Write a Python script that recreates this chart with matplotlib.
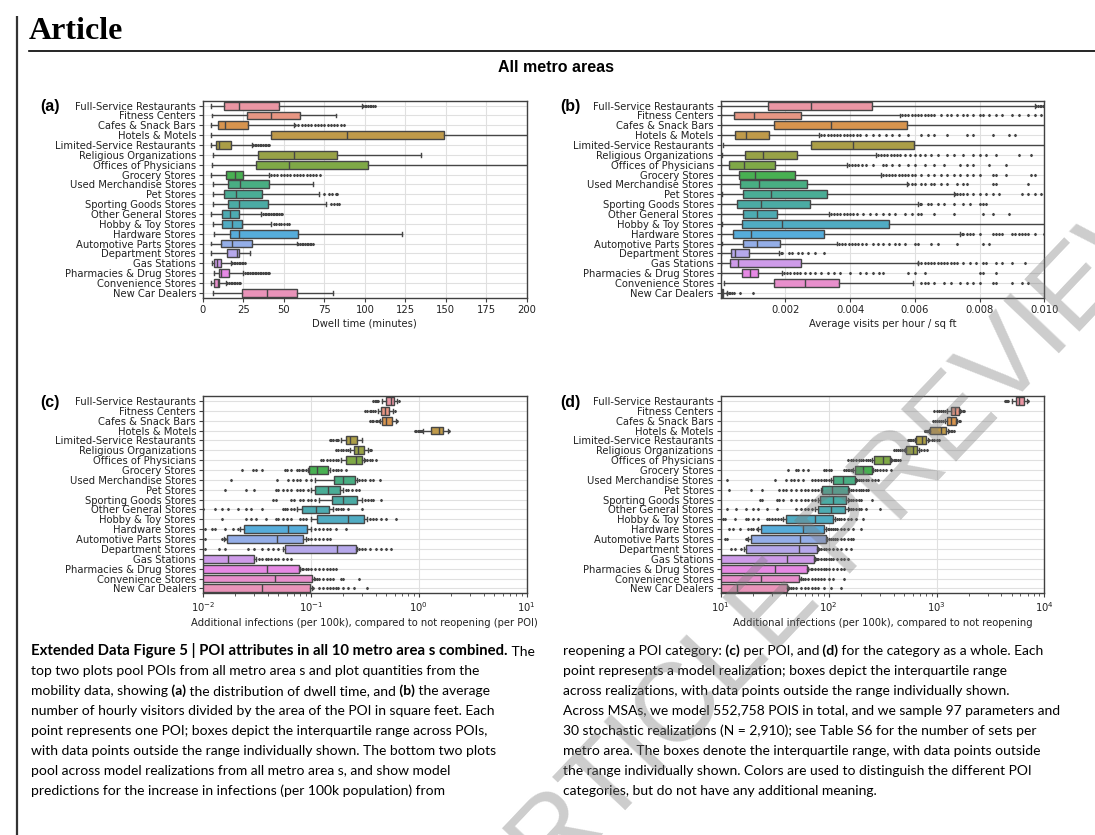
import numpy as np
import matplotlib.pyplot as plt
import seaborn as sns
import colorsys

categories = ["Full-Service Restaurants", "Fitness Centers", "Cafes & Snack Bars",
              "Hotels & Motels", "Limited-Service Restaurants", "Religious Organizations",
              "Offices of Physicians", "Grocery Stores", "Used Merchandise Stores",
              "Pet Stores", "Sporting Goods Stores", "Other General Stores",
              "Hobby & Toy Stores", "Hardware Stores", "Automotive Parts Stores",
              "Department Stores", "Gas Stations", "Pharmacies & Drug Stores",
              "Convenience Stores", "New Car Dealers"]

# (a) dwell time in minutes
dwell_lo = [5, 5.5, 5, 5, 5, 6, 5.5, 5, 6, 6, 6, 5, 6, 6.5, 5, 5, 5.5, 7, 5, 6]
dwell_q1 = [13, 27.4, 9, 42, 8, 34, 33, 14, 15.5, 13, 15.5, 12, 12, 16.5, 11, 15, 7, 10, 7, 24]
dwell_med = [22, 42, 13.5, 89, 10, 56, 53, 20, 23, 20.5, 22.5, 16.5, 18, 22.5, 18, 21, 8.5, 11, 9, 39.5]
dwell_q3 = [47, 60, 28, 149, 17, 83, 102, 25, 41, 36.5, 40, 22, 24, 59, 30, 22, 11, 16, 10, 58]
dwell_hi = [98, 82, 56, 230, 30, 135, 230, 41, 68, 71.5, 76, 36, 42, 123, 58, 29, 17, 25, 14, 80.5]
dwell_fliers = [
    [99, 100, 101, 102, 103, 104, 105, 106],
    [],
    [57, 59, 61, 63, 65, 67, 69, 71, 73, 75, 77, 79, 81, 83, 85, 87],
    [],
    [31, 32, 33, 34, 35, 36, 37, 38, 39, 40, 41],
    [],
    [],
    [42, 44, 46, 48, 50, 52, 54, 56, 58, 60, 62, 64, 66, 68, 70, 72],
    [],
    [75, 78, 80, 82, 83],
    [79, 81, 83, 84],
    [37, 38, 39, 40, 41, 42, 43, 44, 45, 46, 47, 48, 49],
    [44, 45, 47, 48, 50, 52, 53],
    [],
    [59, 60, 61, 62, 63, 64, 65, 66, 67, 68],
    [],
    [18, 19, 20, 21, 22, 23, 24, 25, 26],
    [26, 27, 28, 29, 30, 31, 32, 33, 34, 35, 36, 37, 38, 39, 40, 41],
    [15, 16, 17, 18, 19, 20, 21, 22, 23],
    [],
]

# (b) average visits per hour / sq ft, in units of 1e-3
visits_lo = [0, 0, 0, 0, 0.08, 0.03, 0, 0, 0, 0.03, 0, 0, 0.03, 0, 0.04, 0, 0, 0, 0.11, 0]
visits_q1 = [1.47, 0.41, 1.64, 0.44, 2.78, 0.76, 0.25, 0.55, 0.6, 0.69, 0.51, 0.68, 0.67, 0.37, 0.7, 0.31, 0.28, 0.67, 1.65, 0.01]
visits_med = [2.78, 1.03, 3.42, 0.78, 4.09, 1.32, 0.73, 1.07, 1.18, 1.54, 1.26, 1.13, 1.88, 0.94, 1.11, 0.43, 0.54, 0.92, 2.6, 0.04]
visits_q3 = [4.67, 2.47, 5.76, 1.5, 5.96, 2.36, 1.68, 2.28, 2.67, 3.27, 2.75, 1.74, 5.19, 3.2, 1.83, 0.87, 2.49, 1.15, 3.67, 0.08]
visits_hi = [9.7, 5.55, 12, 3.05, 12, 4.8, 3.9, 4.95, 5.75, 7.2, 6.1, 3.35, 12, 7.4, 3.6, 1.8, 6.1, 1.9, 5.95, 0.18]
visits_fliers = [
    [9.75, 9.8, 9.85, 9.9, 9.95, 10.0],
    [5.6, 5.7, 5.8, 5.9, 6.0, 6.1, 6.2, 6.3, 6.4, 6.5, 6.6, 6.8, 7.0, 7.1, 7.3, 7.5, 7.6, 7.8,
     8.0, 8.1, 8.3, 8.5, 8.7, 9.0, 9.2, 9.5, 9.7, 9.9],
    [],
    [3.1, 3.2, 3.3, 3.4, 3.5, 3.6, 3.7, 3.8, 3.9, 4.0, 4.1, 4.2, 4.3, 4.5, 4.7, 4.9, 5.1, 5.3,
     5.5, 5.8, 6.2, 6.4, 6.6, 7.0, 7.6, 7.8, 8.4, 8.9, 9.1],
    [],
    [4.85, 4.95, 5.05, 5.15, 5.25, 5.35, 5.45, 5.55, 5.7, 5.85, 6.0, 6.15, 6.3, 6.5, 6.7, 7.0,
     7.2, 7.5, 7.8, 8.0, 8.2, 8.5, 9.2, 9.6],
    [3.95, 4.05, 4.15, 4.25, 4.35, 4.5, 4.7, 5.0, 5.1, 5.3, 5.5, 5.8, 6.0, 6.3, 6.6, 6.9, 7.4,
     7.6, 7.8, 8.3, 8.8],
    [5.0, 5.1, 5.2, 5.3, 5.4, 5.5, 5.6, 5.7, 5.8, 5.9, 6.0, 6.2, 6.4, 6.6, 6.8, 7.0, 7.2, 7.4,
     7.6, 7.8, 8.0, 8.4, 8.5, 8.8, 9.6, 9.7],
    [5.8, 5.9, 6.0, 6.2, 6.3, 6.5, 6.6, 6.8, 7.0, 7.3, 7.5, 7.6, 8.4, 8.5, 9.5],
    [7.25, 7.3, 7.4, 7.5, 7.6, 7.8, 8.0, 8.2, 8.4, 8.6, 9.3, 9.5, 9.7, 9.9],
    [6.15, 6.2, 6.4, 6.5, 6.7, 6.9, 7.2, 7.5, 7.7, 8.0, 8.1, 8.2],
    [3.4, 3.5, 3.6, 3.7, 3.8, 3.9, 4.0, 4.1, 4.2, 4.4, 4.6, 4.8, 5.0, 5.2, 5.4, 5.7, 5.9, 6.1,
     6.2, 6.6, 7.2, 8.1, 8.4, 8.9],
    [],
    [7.45, 7.5, 7.6, 7.7, 7.8, 8.0, 8.4, 8.5, 8.6, 8.7, 9.0, 9.1, 9.2, 9.3, 9.4, 9.5, 9.7, 10.0],
    [3.65, 3.75, 3.85, 3.95, 4.05, 4.15, 4.25, 4.35, 4.5, 4.7, 4.85, 5.0, 5.2, 5.4, 5.5, 5.7,
     6.0, 6.1, 6.5, 6.7, 7.3, 8.1, 8.3],
    [1.85, 1.9, 2.1, 2.2, 2.4, 2.5, 2.7, 2.9, 3.2],
    [6.1, 6.2, 6.3, 6.4, 6.5, 6.6, 6.7, 6.8, 6.9, 7.0, 7.1, 7.2, 7.3, 7.5, 7.7, 7.9, 8.1, 8.2,
     8.5, 8.7, 9.0, 9.4],
    [1.95, 2.05, 2.15, 2.25, 2.35, 2.45, 2.6, 2.75, 2.9, 3.1, 3.3, 3.5, 3.7, 4.0, 4.3, 4.5, 4.7,
     4.9, 5.0, 5.8, 6.0, 6.3, 8.0, 8.1, 8.5],
    [6.2, 6.3, 6.4, 6.6, 6.9, 7.1, 7.4, 7.6, 7.8, 8.0, 8.4, 8.5, 9.0, 9.3, 9.5],
    [0.2, 0.25, 0.3, 0.35, 0.4, 0.6, 1.0],
]

# (c) additional infections per 100k, per POI
poi_lo = [0.46, 0.42, 0.44, 1.1, 0.19, 0.23, 0.19, 0.095, 0.11, 0.10, 0.12, 0.075, 0.10,
          0.022, 0.0155, 0.055, 0.001, 0.001, 0.001, 0.001]
poi_q1 = [0.50, 0.45, 0.46, 1.30, 0.21, 0.25, 0.21, 0.097, 0.162, 0.11, 0.156, 0.083, 0.115,
          0.024, 0.0167, 0.058, 0.005, 0.006, 0.006, 0.006]
poi_med = [0.55, 0.49, 0.50, 1.55, 0.23, 0.275, 0.26, 0.115, 0.20, 0.145, 0.20, 0.112, 0.22,
           0.061, 0.048, 0.175, 0.017, 0.039, 0.046, 0.035]
poi_q3 = [0.59, 0.53, 0.56, 1.69, 0.265, 0.31, 0.30, 0.143, 0.258, 0.185, 0.267, 0.148, 0.312,
          0.093, 0.084, 0.263, 0.030, 0.077, 0.103, 0.099]
poi_hi = [0.63, 0.58, 0.61, 1.85, 0.30, 0.34, 0.31, 0.15, 0.27, 0.20, 0.30, 0.16, 0.33,
          0.10, 0.09, 0.27, 0.031, 0.08, 0.106, 0.102]
poi_fliers = [
    [0.38, 0.39, 0.40, 0.41, 0.42, 0.65],
    [0.32, 0.33, 0.35, 0.36, 0.38, 0.39, 0.60],
    [0.35, 0.37, 0.38, 0.40, 0.41, 0.43, 0.63],
    [0.92, 0.95, 0.98, 1.0, 1.02, 1.05, 1.08, 1.9],
    [0.15, 0.155, 0.16, 0.17, 0.175, 0.18],
    [0.17, 0.18, 0.19, 0.20, 0.21, 0.22, 0.35, 0.36],
    [0.125, 0.13, 0.14, 0.15, 0.16, 0.17, 0.18, 0.32, 0.33, 0.35, 0.37, 0.40],
    [0.023, 0.029, 0.031, 0.035, 0.057, 0.06, 0.065, 0.075, 0.078, 0.082, 0.085, 0.09,
     0.16, 0.17, 0.18, 0.19, 0.21],
    [0.018, 0.048, 0.062, 0.068, 0.075, 0.08, 0.09, 0.1, 0.28, 0.3, 0.32, 0.35, 0.38, 0.44],
    [0.016, 0.025, 0.03, 0.047, 0.05, 0.055, 0.06, 0.065, 0.075, 0.08, 0.085, 0.095,
     0.21, 0.22, 0.24, 0.26, 0.28],
    [0.045, 0.047, 0.065, 0.07, 0.08, 0.085, 0.095, 0.1, 0.11, 0.32, 0.34, 0.36, 0.38, 0.45],
    [0.01, 0.013, 0.015, 0.017, 0.021, 0.025, 0.028, 0.035, 0.055, 0.058, 0.06, 0.065, 0.07,
     0.17, 0.18, 0.19, 0.2, 0.22, 0.3],
    [0.015, 0.025, 0.028, 0.031, 0.038, 0.047, 0.05, 0.055, 0.06, 0.065, 0.08, 0.085, 0.09,
     0.35, 0.38, 0.4, 0.45, 0.5, 0.62],
    [0.0105, 0.012, 0.013, 0.016, 0.019, 0.021, 0.11, 0.12, 0.13, 0.14, 0.15, 0.17, 0.21],
    [0.0105, 0.015, 0.016, 0.095, 0.1, 0.11, 0.12, 0.13, 0.14, 0.15],
    [0.0105, 0.014, 0.016, 0.026, 0.03, 0.035, 0.04, 0.045, 0.05, 0.28, 0.3, 0.32, 0.35,
     0.4, 0.45, 0.5, 0.55],
    [0.033, 0.035, 0.038, 0.04, 0.043, 0.046, 0.05, 0.055, 0.06, 0.065],
    [0.082, 0.085, 0.09, 0.095, 0.1, 0.11, 0.12, 0.13, 0.14, 0.15, 0.16, 0.17],
    [0.11, 0.115, 0.12, 0.13, 0.14, 0.15, 0.16, 0.19, 0.2, 0.28],
    [0.105, 0.12, 0.13, 0.14, 0.15, 0.16, 0.17, 0.18, 0.2, 0.22, 0.25, 0.33],
]

# (d) additional infections per 100k, whole category
cat_lo = [5000, 1250, 1200, 850, 630, 510, 250, 170, 105, 85, 80, 75, 38, 22, 18, 16.5, 5, 5, 5, 5]
cat_q1 = [5470, 1371, 1250, 863, 641, 526, 262, 176, 108.7, 87, 84, 79, 39.9, 23.4, 18.95,
          17.1, 8, 8, 8, 8]
cat_med = [5850, 1470, 1370, 1090, 740, 610, 320, 210, 136, 108, 110, 106, 74.5, 58, 54, 53,
           41.4, 31.8, 23.6, 14.05]
cat_q3 = [6530, 1614, 1503, 1233, 805, 664, 368, 251, 175, 150, 146, 143, 110, 90, 95.6, 78.9,
          73, 62.5, 53.3, 40.8]
cat_hi = [6900, 1650, 1550, 1280, 830, 690, 380, 260, 180, 155, 150, 150, 115, 95, 97, 80,
          75, 64, 55, 42]
cat_fliers = [
    [4300, 4400, 4500, 4600, 7100],
    [950, 1000, 1050, 1100, 1150, 1200, 1700, 1750, 1800],
    [920, 960, 1000, 1050, 1100, 1150, 1600, 1650],
    [780, 790, 800, 810, 820, 830, 1300, 1350, 1400, 1450],
    [550, 560, 570, 580, 600, 610, 850, 900, 950, 1000, 1050],
    [400, 420, 440, 460, 480, 500, 720, 760, 820],
    [150, 160, 170, 180, 190, 200, 210, 220, 230, 240, 390, 400, 410, 420, 440, 460],
    [42, 50, 52, 58, 65, 90, 95, 100, 105, 140, 145, 150, 155, 160, 165,
     270, 280, 300, 320, 340, 380],
    [11.5, 32, 40, 45, 48, 52, 58, 70, 75, 80, 85, 90, 95, 100,
     185, 190, 200, 210, 220, 230, 250, 270, 290],
    [12, 19, 24, 35, 38, 40, 45, 50, 55, 60, 65, 70, 75, 80,
     160, 170, 180, 190, 200, 210, 220, 230],
    [23, 24, 33, 35, 38, 45, 50, 55, 60, 65, 70, 75, 155, 160, 170, 180, 190, 200, 250],
    [11.5, 14, 17, 20, 22, 27, 33, 50, 55, 60, 65, 70, 155, 160, 170, 180, 190, 200, 220, 300],
    [10.5, 11, 13.5, 17, 18, 20, 22, 27, 28, 30, 32, 34, 36,
     120, 125, 130, 140, 150, 160, 180, 210],
    [12, 13, 15, 18, 19, 20, 21.5, 98, 100, 105, 110, 115, 120, 130, 140, 150, 170, 200],
    [11, 11.5, 17, 17.5, 100, 105, 110, 115, 120, 130, 140, 150, 160, 170],
    [12.5, 13.5, 15.5, 82, 85, 90, 95, 100, 110, 120, 130, 145, 160],
    [76, 78, 80, 85, 90, 95, 100, 105, 110, 120, 130, 140, 150],
    [65, 68, 70, 75, 80, 85, 90, 95, 100, 110, 120, 130, 140],
    [56, 58, 60, 65, 70, 75, 80, 85, 90, 100, 110, 140],
    [43, 45, 47, 50, 55, 60, 65, 70, 75, 80, 90, 105, 130],
]

caption_left = [
    [("Extended Data Figure 5 | POI attributes in all 10 metro area s combined.", True), (" The", False)],
    [("top two plots pool POIs from all metro area s and plot quantities from the", False)],
    [("mobility data, showing", False), (" (a)", True), (" the distribution of dwell time, and", False),
     (" (b)", True), (" the average", False)],
    [("number of hourly visitors divided by the area of the POI in square feet. Each", False)],
    [("point represents one POI; boxes depict the interquartile range across POIs,", False)],
    [("with data points outside the range individually shown. The bottom two plots", False)],
    [("pool across model realizations from all metro area s, and show model", False)],
    [("predictions for the increase in infections (per 100k population) from", False)],
]
caption_right = [
    [("reopening a POI category:", False), (" (c)", True), (" per POI, and", False), (" (d)", True),
     (" for the category as a whole. Each", False)],
    [("point represents a model realization; boxes depict the interquartile range", False)],
    [("across realizations, with data points outside the range individually shown.", False)],
    [("Across MSAs, we model 552,758 POIS in total, and we sample 97 parameters and", False)],
    [("30 stochastic realizations (N = 2,910); see Table S6 for the number of sets per", False)],
    [("metro area. The boxes denote the interquartile range, with data points outside", False)],
    [("the range individually shown. Colors are used to distinguish the different POI", False)],
    [("categories, but do not have any additional meaning.", False)],
]

W, H = 1095, 835
pal = sns.color_palette(sns.husl_palette(len(categories), l=.7), desat=.75)
lum = min(colorsys.rgb_to_hls(*c)[1] for c in pal) * .6
gray = (lum, lum, lum)


def make_stats(lo, q1, med, q3, hi, fliers, scale=1.0):
    out = []
    for i in range(len(lo)):
        out.append(dict(whislo=lo[i] * scale, q1=q1[i] * scale, med=med[i] * scale,
                        q3=q3[i] * scale, whishi=hi[i] * scale,
                        fliers=np.array(fliers[i], dtype=float) * scale))
    return out


def draw_panel(rect, stats, xlabel):
    ax = fig.add_axes(rect)
    bp = ax.bxp(stats, positions=np.arange(len(categories)), widths=0.8,
                orientation='horizontal', patch_artist=True, manage_ticks=False,
                boxprops=dict(edgecolor=gray, linewidth=1.0),
                whiskerprops=dict(color=gray, linewidth=1.0),
                capprops=dict(color=gray, linewidth=1.0),
                medianprops=dict(color=gray, linewidth=1.0),
                flierprops=dict(marker='d', markersize=1.2, markerfacecolor=gray,
                                markeredgecolor=gray, linestyle='none'))
    for patch, c in zip(bp['boxes'], pal):
        patch.set_facecolor(c)
    ax.set_yticks(np.arange(len(categories)))
    ax.set_yticklabels(categories)
    ax.set_ylim(len(categories) - 0.5, -0.5)
    ax.grid(True, color='#e0e0e0', linewidth=0.8)
    ax.set_axisbelow(True)
    ax.tick_params(labelsize=7.2, length=3, pad=2, color='#404040', labelcolor='#222222')
    ax.tick_params(which='minor', length=1.8, color='#404040')
    for s in ax.spines.values():
        s.set_color('#404040')
        s.set_linewidth(1.0)
    ax.set_xlabel(xlabel, fontsize=7.2, labelpad=3, color='#222222')
    return ax


fig = plt.figure(figsize=(W / 100, H / 100), dpi=100)

ax_w = 323.7 / W
top_b, top_h = 1 - 297.7 / H, 197 / H
bot_b, bot_h = 1 - 593.3 / H, 197.3 / H

ax_a = draw_panel([203 / W, top_b, ax_w, top_h],
                  make_stats(dwell_lo, dwell_q1, dwell_med, dwell_q3, dwell_hi, dwell_fliers),
                  'Dwell time (minutes)')
ax_a.set_xlim(0, 200)
ax_a.set_xticks(np.arange(0, 201, 25))

ax_b = draw_panel([720.7 / W, top_b, ax_w, top_h],
                  make_stats(visits_lo, visits_q1, visits_med, visits_q3, visits_hi, visits_fliers, 1e-3),
                  'Average visits per hour / sq ft')
ax_b.set_xlim(0, 0.01)
ax_b.set_xticks([0.002, 0.004, 0.006, 0.008, 0.010])
ax_b.set_xticklabels(['0.002', '0.004', '0.006', '0.008', '0.010'])

ax_c = draw_panel([203 / W, bot_b, ax_w, bot_h],
                  make_stats(poi_lo, poi_q1, poi_med, poi_q3, poi_hi, poi_fliers),
                  'Additional infections (per 100k), compared to not reopening (per POI)')
ax_c.set_xscale('log')
ax_c.set_xlim(1e-2, 1e1)

ax_d = draw_panel([720.7 / W, bot_b, ax_w, bot_h],
                  make_stats(cat_lo, cat_q1, cat_med, cat_q3, cat_hi, cat_fliers),
                  'Additional infections (per 100k), compared to not reopening')
ax_d.set_xscale('log')
ax_d.set_xlim(1e1, 1e4)
for ax in (ax_c, ax_d):
    ax.tick_params(which='minor', length=1.8, color='#404040')

# page overlay in pixel coordinates
tax = fig.add_axes([0, 0, 1, 1], zorder=10)
tax.set_xlim(0, W)
tax.set_ylim(H, 0)
tax.axis('off')

tax.plot([17, 17], [16, H], color='#333333', linewidth=1.6, solid_capstyle='butt')
tax.plot([29, W], [51, 51], color='black', linewidth=1.2)
tax.text(29, 39, 'Article', family='Liberation Serif', fontweight='bold', fontsize=23,
         ha='left', va='baseline')
tax.text(556, 68, 'All metro areas', family='Liberation Sans', fontweight='bold', fontsize=11.5,
         ha='center', va='center')
for lbl, (px, py) in zip(['(a)', '(b)', '(c)', '(d)'], [(40, 106), (560, 106), (40, 403), (560, 403)]):
    tax.text(px, py, lbl, family='Liberation Sans', fontweight='bold', fontsize=11.5,
             ha='left', va='center')


def caption_line(x, y, parts):
    kw = dict(family='Lato', color='black')
    t = tax.text(x, y, parts[0][0], fontweight='bold' if parts[0][1] else 'normal',
                 fontsize=10.7 if parts[0][1] else 10.0, ha='left', va='baseline', **kw)
    for s, b in parts[1:]:
        t = tax.annotate(s, xy=(1, 0), xycoords=t, ha='left', va='bottom',
                         fontweight='bold' if b else 'normal', fontsize=10.0, **kw)


for i, parts in enumerate(caption_left):
    caption_line(31, 655 + 20 * i, parts)
for i, parts in enumerate(caption_right):
    caption_line(563, 655 + 20 * i, parts)

# diagonal watermark, cut by the page edges as in the original
tax.text(828, 555, 'ARTICLE PREVIEW', family='Liberation Sans', fontsize=80, rotation=46.5,
         rotation_mode='anchor', ha='center', va='center', color='#7a7a7a', alpha=0.38)

fig.savefig('out.png', dpi=100)
